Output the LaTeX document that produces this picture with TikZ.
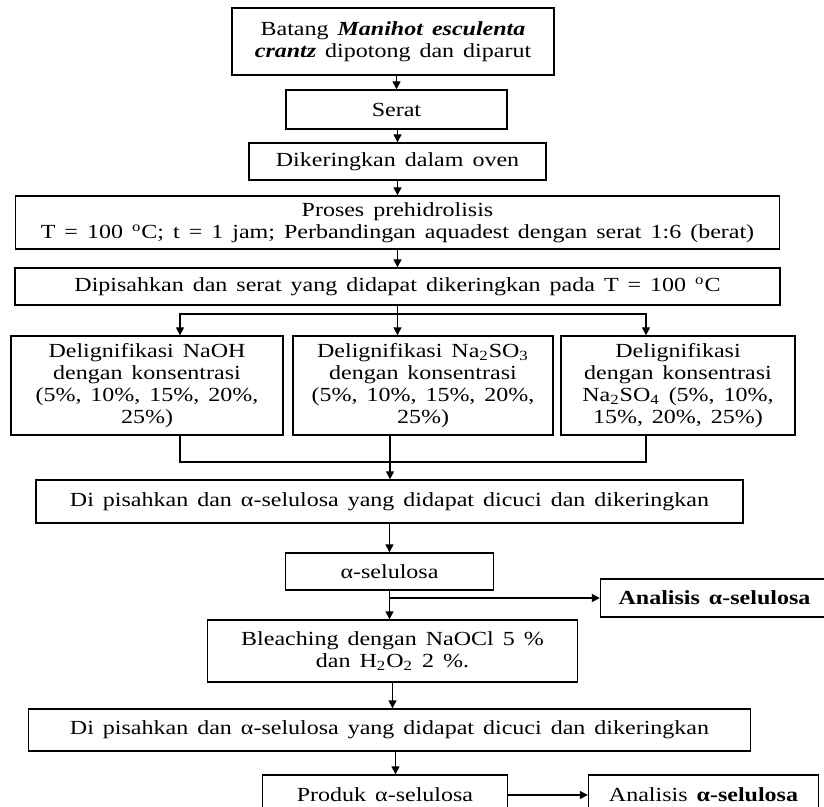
\documentclass[tikz,border=0pt]{standalone}
\usepackage{fontspec}
\setmainfont{Liberation Serif}[FakeStretch=1.2,WordSpace=1.5]
\usetikzlibrary{arrows.meta}

\begin{document}
\begin{tikzpicture}[
  x=0.5pt, y=0.5pt,
  block/.style={rectangle, draw, align=center, inner sep=2pt, font=\fontsize{10}{11}\selectfont},
  >={Triangle[length=4pt,width=4pt]},
  line width=0.7pt
]
\path[use as bounding box, clip] (0,0) rectangle (824,-807);

\node[block, minimum width=161pt, minimum height=33.5pt] (batang) at (393,-41.5) {Batang \textbf{\textit{Manihot esculenta}}\\\textbf{\textit{crantz}} dipotong dan diparut};
\node[block, below of=batang, node distance=34pt, xshift=1.75pt, minimum width=110.5pt, minimum height=19.5pt] (serat) {Serat};
\node[block, below of=serat, node distance=26pt, xshift=0.5pt, minimum width=148.5pt, minimum height=18.5pt] (oven) {Dikeringkan dalam oven};
\node[block, below of=oven, node distance=30.5pt, minimum width=382pt, minimum height=26.5pt] (prehid) {Proses prehidrolisis\\T = 100 \textsuperscript{o}C; t = 1 jam; Perbandingan aquadest dengan serat 1:6 (berat)};
\node[block, below of=prehid, node distance=32pt, minimum width=382.5pt, minimum height=18.5pt] (pisah) {Dipisahkan dan serat yang didapat dikeringkan pada T = 100 \textsuperscript{o}C};
\coordinate[below of=pisah, node distance=13.75pt] (split);
\node[block, below of=pisah, node distance=49.5pt, xshift=12.75pt, minimum width=130pt, minimum height=49.5pt] (delig2) {Delignifikasi Na\textsubscript{2}SO\textsubscript{3}\\dengan konsentrasi\\(5\%, 10\%, 15\%, 20\%,\\25\%)};
\node[block, left of=delig2, node distance=138pt, minimum width=136pt, minimum height=49.5pt] (delig1) {Delignifikasi NaOH\\dengan konsentrasi\\(5\%, 10\%, 15\%, 20\%,\\25\%)};
\node[block, right of=delig2, node distance=127.5pt, minimum width=117pt, minimum height=49.5pt] (delig3) {Delignifikasi\\dengan konsentrasi\\Na\textsubscript{2}SO\textsubscript{4} (5\%, 10\%,\\15\%, 20\%, 25\%)};
\coordinate[below of=delig2, node distance=38.25pt, xshift=-16.5pt] (merge);
\node[block, below of=pisah, node distance=107.5pt, xshift=-4pt, minimum width=353.5pt, minimum height=21.5pt] (cuci1) {Di pisahkan dan α-selulosa yang didapat dicuci dan dikeringkan};
\node[block, below of=cuci1, node distance=35pt, minimum width=104pt, minimum height=18.5pt] (alfa) {α-selulosa};
\node[block, right of=alfa, node distance=162.5pt, yshift=-13.25pt, minimum width=114pt, minimum height=19pt] (analisis1) {\textbf{Analisis α-selulosa}};
\node[block, below of=alfa, node distance=39.75pt, xshift=1.5pt, minimum width=185pt, minimum height=31pt] (bleach) {Bleaching dengan NaOCl 5 \%\\dan H\textsubscript{2}O\textsubscript{2} 2 \%.};
\node[block, below of=bleach, node distance=39.5pt, xshift=-1.5pt, minimum width=361pt, minimum height=21pt] (cuci2) {Di pisahkan dan α-selulosa yang didapat dicuci dan dikeringkan};
\node[block, below of=cuci2, node distance=32.5pt, xshift=-2.25pt, minimum width=122.5pt, minimum height=20pt] (produk) {Produk α-selulosa};
\node[block, right of=produk, node distance=159.25pt, minimum width=115pt, minimum height=20pt] (analisis2) {Analisis \textbf{α-selulosa}};

\draw[->] (batang.south -| serat) -- (serat);
\draw[->] (serat.south -| oven) -- (oven);
\draw[->] (oven.south -| prehid) -- (prehid);
\draw[->] (prehid) -- (pisah);
\draw (pisah) -- (split);
\draw[->] (split) -| ([xshift=16.5pt]delig1.north);
\draw[->] (split) -- (split |- delig2.north);
\draw[->] (split) -| ([xshift=-16pt]delig3.north);
\draw ([xshift=16.5pt]delig1.south) |- (merge) -| ([xshift=-16pt]delig3.south);
\draw[->] (delig2.south -| merge) -- (merge |- cuci1.north);
\draw[->] (cuci1.south -| alfa) -- (alfa);
\draw[->] (alfa.south) -- (alfa.south |- bleach.north);
\draw[->] (alfa.south |- analisis1) -- (analisis1);
\draw[->] (bleach.south) -- (bleach.south |- cuci2.north);
\draw[->] ([xshift=3pt]cuci2.south) -- ([xshift=3pt]cuci2.south |- produk.north);
\draw[->] (produk) -- (analisis2);
\end{tikzpicture}
\end{document}
